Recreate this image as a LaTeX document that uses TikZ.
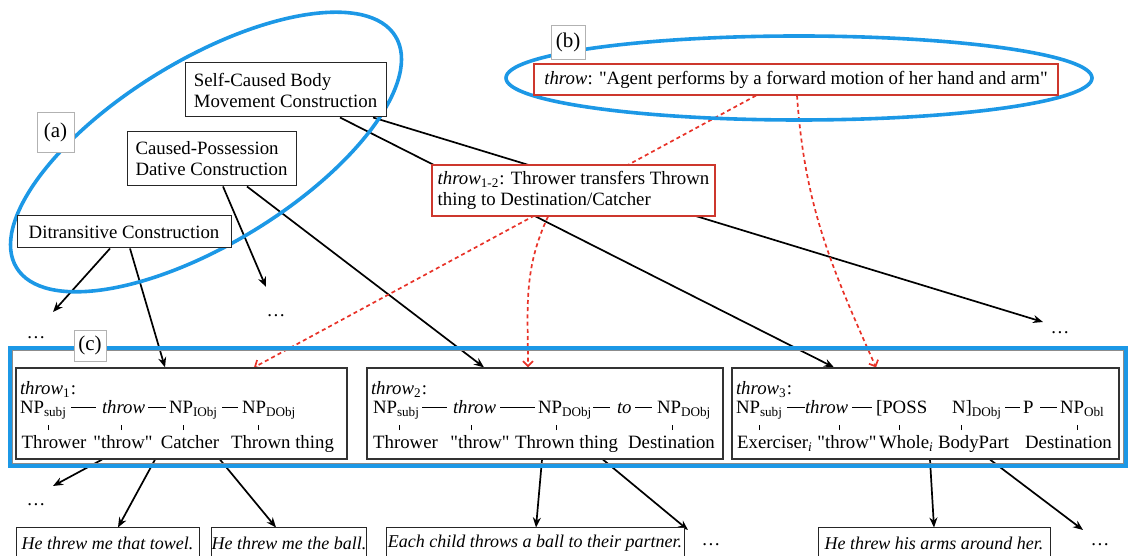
\documentclass[tikz,border=0pt]{standalone}
\usepackage{fontspec}
\setmainfont{Liberation Serif}[Ligatures=TeXOff]
\usetikzlibrary{arrows.meta}

\definecolor{frameblue}{RGB}{28,152,230}
\definecolor{senred}{RGB}{205,55,45}
\definecolor{linkred}{RGB}{232,50,40}

\pgfdeclarelayer{links}
\pgfsetlayers{links,main}

% one slot of a valency pattern:
% #1 form, #2 tick offset from the form's left edge,
% #3 role label, #4 centre of the label measured from the form's left edge
\newcommand\el[4]{%
  \vtop{\offinterlineskip
    \hbox{\raisebox{0pt}[\height][0pt]{#1}}%
    \kern5.5pt
    \hbox{\kern#2\kern-0.25pt\rule{0.5pt}{2.6pt}}%
    \kern9.4pt
    \hbox{\kern#4\makebox[0pt][c]{\raisebox{0pt}[0pt][\depth]{#3}}}}}
\newcommand\putat[2]{\rlap{\hspace*{#1}#2}}
\newcommand\dashr[1]{\rule[2.8pt]{#1}{0.45pt}}
\newcommand\patternhead[1]{\rule{0pt}{10.5pt}\textit{throw}\textsubscript{#1}:}

\begin{document}
\begin{tikzpicture}[x=0.5pt,y=0.5pt,
  every node/.style={font=\fontsize{9.4}{10.5}\selectfont},
  cbox/.style={draw=black!85,line width=0.5pt,fill=white,align=left,inner sep=0pt},
  sbox/.style={draw=senred,line width=0.6pt,fill=white,align=left,inner sep=0pt},
  pbox/.style={draw=black!80,line width=0.6pt,fill=white,align=left,inner sep=0pt,
    minimum height=45.5pt},
  exbox/.style={draw=black!85,line width=0.5pt,fill=white,inner sep=0pt,
    minimum height=15pt,font=\fontsize{9}{10.5}\selectfont\itshape},
  tag/.style={draw=black!30,line width=0.4pt,fill=white,inner sep=0pt,
    font=\fontsize{10.5}{12}\selectfont},
  dots/.style={anchor=base,inner sep=0pt},
  blue ring/.style={draw=frameblue,line width=1.8pt},
  link/.style={line width=0.85pt,-{Stealth[length=5pt,width=4pt]}},
  sense/.style={draw=linkred,line width=0.85pt,dash pattern=on 2pt off 1.6pt,
    -{Straight Barb[length=2.5pt,width=5pt]}}]

\useasboundingbox (0,0) rectangle (1129,556);

% groupings (a), (b), (c)
\draw[blue ring,rotate around={31.4:(206,404)}] (206,404) ellipse [x radius=111pt,y radius=46pt];
\draw[blue ring] (799,478) ellipse [x radius=146.5pt,y radius=21pt];
\draw[black!45,line width=0.4pt] (12.5,92.5) rectangle (1123.5,205.5);
\draw[blue ring] (10,90) rectangle (1126,208);

% constructions
\node[cbox,minimum width=100.5pt,minimum height=27pt] (scbm) at (285.5,466)
  {Self-Caused Body\\Movement Construction};
\node[cbox,minimum width=84.5pt,minimum height=27pt] (cpd) at (211.5,397)
  {Caused-Possession\\Dative Construction};
\node[cbox,minimum width=107pt,minimum height=16pt] (ditr) at (124,324)
  {Ditransitive Construction};

% senses
\node[sbox,minimum width=262pt,minimum height=15.5pt] (defn) at (796,476.5)
  {\textit{throw}: "Agent performs by a forward motion of her hand and arm"};
\node[sbox,minimum width=141.5pt,minimum height=25.5pt] (t12) at (573.5,365.5)
  {\textit{throw}\textsubscript{1-2}: Thrower transfers Thrown\\thing to Destination/Catcher};

% valency patterns
\node[pbox,minimum width=165.5pt] (t1) at (181.5,142.5)
  {\patternhead{1}\\[-1pt]
   \hbox to161.5pt{%
    \putat{0pt}{\el{NP\textsubscript{subj}}{14pt}{Thrower}{17pt}}%
    \putat{25.5pt}{\dashr{12.5pt}}%
    \putat{41pt}{\el{\textit{throw}}{9.5pt}{"throw"}{10.5pt}}%
    \putat{64pt}{\dashr{9pt}}%
    \putat{74.5pt}{\el{NP\textsubscript{IObj}}{7pt}{Catcher}{10.5pt}}%
    \putat{101pt}{\dashr{8pt}}%
    \putat{111pt}{\el{NP\textsubscript{DObj}}{8pt}{Thrown thing}{20.25pt}}%
    \hfil}};
\node[pbox,minimum width=178pt] (t2) at (545,142.5)
  {\patternhead{2}\\[-1pt]
   \hbox to174pt{%
    \putat{1pt}{\el{NP\textsubscript{subj}}{13pt}{Thrower}{16.25pt}}%
    \putat{25.5pt}{\dashr{12.5pt}}%
    \putat{41pt}{\el{\textit{throw}}{9pt}{"throw"}{13.5pt}}%
    \putat{64.5pt}{\dashr{17.5pt}}%
    \putat{83.5pt}{\el{NP\textsubscript{DObj}}{9pt}{Thrown thing}{14.25pt}}%
    \putat{111pt}{\dashr{8.5pt}}%
    \putat{123pt}{\textit{to}}%
    \putat{132pt}{\dashr{8.5pt}}%
    \putat{143pt}{\el{NP\textsubscript{DObj}}{7.5pt}{Destination}{7.25pt}}%
    \hfil}};
\node[pbox,minimum width=193.5pt] (t3) at (925.5,142.5)
  {\patternhead{3}\\[-1pt]
   \hbox to189.5pt{%
    \putat{0pt}{\el{NP\textsubscript{subj}}{11.5pt}{Exerciser\textsubscript{\textit{i}}}{19.5pt}}%
    \putat{25.5pt}{\dashr{9pt}}%
    \putat{34.5pt}{\el{\textit{throw}}{17pt}{"throw"}{21pt}}%
    \putat{58pt}{\dashr{10pt}}%
    \putat{70pt}{\el{[POSS}{11.5pt}{Whole\textsubscript{\textit{i}}}{15.25pt}}%
    \putat{108pt}{\el{N]\textsubscript{DObj}}{4.5pt}{BodyPart}{10.75pt}}%
    \putat{134.5pt}{\dashr{7.5pt}}%
    \putat{143.5pt}{P}%
    \putat{152pt}{\dashr{8.5pt}}%
    \putat{162pt}{\el{NP\textsubscript{Obl}}{8.5pt}{Destination}{4.25pt}}%
    \hfil}};

% example sentences
\node[exbox,minimum width=91.5pt] (ex1) at (107.5,13) {He threw me that towel.};
\node[exbox,minimum width=77pt] (ex2) at (289,13) {He threw me the ball.};
\node[exbox,minimum width=149pt] (ex3) at (535,13) {Each child throws a ball to their partner.};
\node[exbox,minimum width=116pt] (ex4) at (934,13) {He threw his arms around her.};

% open continuations
\node[dots] (d1) at (36,217) {\ldots};
\node[dots] (d2) at (276,239) {\ldots};
\node[dots] (d3) at (1060,222) {\ldots};
\node[dots] (d4) at (36,50) {\ldots};
\node[dots] (d5) at (711,10) {\ldots};
\node[dots] (d6) at (1100,10) {\ldots};
\coordinate (e1) at (53,244);
\coordinate (e3) at (266,269);
\coordinate (e6) at (1043,234);
\coordinate (e7) at (53,70);
\coordinate (e11) at (688,26);
\coordinate (e13) at (1083,26);

% group tags
\node[tag,minimum width=18.5pt,minimum height=20pt] (la) at (55.5,424) {(a)};
\node[tag,minimum width=17pt,minimum height=17pt] (lb) at (568,514) {(b)};
\node[tag,minimum width=16pt,minimum height=15.5pt] (lc) at (90,210.5) {(c)};

% inheritance and sense links
\begin{pgfonlayer}{links}
\draw[link] ([xshift=-7pt]ditr.south) -- (e1);
\draw[link] ([xshift=3pt]ditr.south) -- ([xshift=-8.25pt]t1.north);
\draw[link] ([xshift=5.75pt]cpd.south) -- (e3);
\draw[link] ([xshift=17.75pt]cpd.south) -- ([xshift=-30.5pt]t2.north);
\draw[link] ([xshift=27.25pt]scbm.south) -- ([xshift=-45.75pt]t3.north);
\draw[link] ([xshift=43.75pt]scbm.south) -- (e6);
\draw[link] ([xshift=-39.75pt]t1.south) -- (e7);
\draw[link] ([xshift=-13.25pt]t1.south) -- ([xshift=5.25pt]ex1.north);
\draw[link] ([xshift=19.25pt]t1.south) -- ([xshift=-6.5pt]ex2.north);
\draw[link] ([xshift=-1.5pt]t2.south) -- ([xshift=0.5pt]ex3.north);
\draw[link] ([xshift=29pt]t2.south) -- (e11);
\draw[link] ([xshift=2.25pt]t3.south) -- (ex4.north);
\draw[link] ([xshift=32.25pt]t3.south) -- (e13);
\draw[sense] ([xshift=-20pt]defn.south) -- ([xshift=36.25pt]t1.north);
\draw[sense] ([xshift=-12.75pt]t12.south) to[out=-115,in=90] ([xshift=-8.5pt]t2.north);
\draw[sense] ([xshift=0.5pt]defn.south) to[out=-86,in=114] ([xshift=-24.75pt]t3.north);
\end{pgfonlayer}
\end{tikzpicture}
\end{document}
